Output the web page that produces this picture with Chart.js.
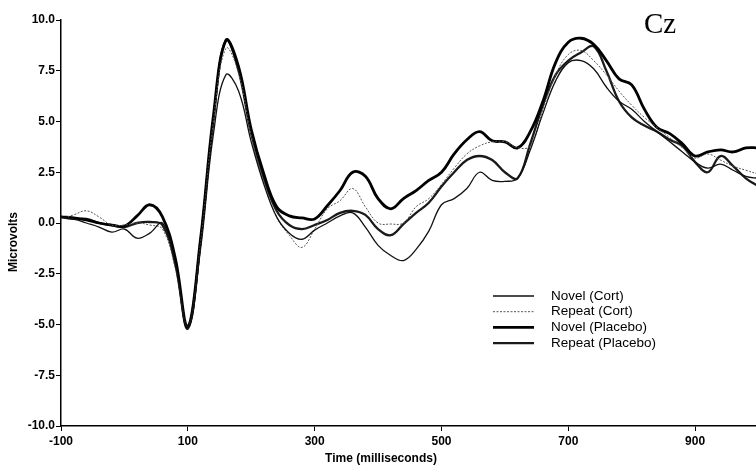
<!DOCTYPE html>
<html>
<head>
<meta charset="utf-8">
<script src="https://cdn.jsdelivr.net/npm/chart.js@4/dist/chart.umd.min.js"></script>
<style>
  body { margin: 0; background: #fff; }
  #wrap { width: 756px; height: 473px; }
</style>
</head>
<body>
<div id="wrap"><canvas id="myChart" width="756" height="473"></canvas></div>
<script>
// time in ms, every 20 ms
const times = [-100,-80,-60,-40,-20,0,20,40,60,80,100,120,140,160,180,200,220,240,260,280,300,320,340,360,380,400,420,440,460,480,500,520,540,560,580,600,620,640,660,680,700,720,740,760,780,800,820,840,860,880,900,920,940,960,980,1000];

const novelCort = [0.3,0.2,0.0,-0.2,-0.45,-0.3,-0.75,-0.5,0.0,-2.0,-5.1,-1.3,4.3,7.3,6.5,4.0,1.9,0.3,-0.5,-0.8,-0.35,0.0,0.35,0.5,-0.2,-1.1,-1.6,-1.85,-1.3,-0.4,0.9,1.2,1.7,2.5,2.1,2.05,2.2,3.6,5.4,7.0,7.9,8.0,7.6,6.7,6.0,5.6,5.0,4.5,4.0,3.5,3.0,2.7,2.9,2.6,2.3,2.2];
const repeatCort = [0.2,0.4,0.6,0.3,-0.1,-0.1,0.0,-0.1,-0.3,-2.2,-5.1,-1.0,4.9,8.6,7.4,4.3,2.0,0.3,-0.6,-1.2,-0.3,0.7,1.1,1.7,0.8,0.0,-0.05,0.0,0.8,1.2,1.9,2.7,3.4,3.8,4.0,4.0,3.7,3.8,5.6,7.3,8.3,8.5,8.0,7.3,6.5,5.8,5.2,4.7,4.2,3.7,3.2,3.4,3.1,2.8,2.6,2.4];
const novelPlacebo = [0.3,0.25,0.15,0.0,-0.1,-0.15,0.35,0.9,0.3,-1.7,-5.1,-0.8,5.2,9.0,7.7,4.6,2.4,0.8,0.35,0.25,0.2,0.85,1.6,2.5,2.3,1.2,0.7,1.2,1.6,2.1,2.5,3.4,4.1,4.5,4.05,4.0,3.7,4.5,6.0,7.9,8.9,9.1,8.8,8.0,7.1,6.8,5.6,4.7,4.4,3.9,3.3,3.5,3.6,3.5,3.7,3.7];
const repeatPlacebo = [0.3,0.2,0.2,0.0,-0.1,-0.2,0.0,0.05,-0.1,-2.0,-5.2,-0.9,5.0,9.0,7.5,4.4,2.2,0.6,-0.1,-0.3,-0.1,0.15,0.5,0.6,0.4,-0.3,-0.6,-0.05,0.5,1.0,1.8,2.5,3.1,3.3,3.1,2.5,2.2,3.9,5.8,7.3,8.0,8.4,8.7,7.5,6.0,5.2,4.8,4.5,4.1,3.8,3.0,2.5,3.3,2.8,2.2,1.8];

const xTicks = [-100, 100, 300, 500, 700, 900];
const yTicks = [-10, -7.5, -5, -2.5, 0, 2.5, 5, 7.5, 10];

const font = 'Liberation Sans';

function pts(vals) {
  return times.map((t, i) => ({ x: t, y: vals[i] }));
}

// legend drawn inside the plot, axis titles and the "Cz" label
const extras = {
  id: 'extras',
  afterDraw(chart) {
    const ctx = chart.ctx;
    ctx.save();
    ctx.font = '13.5px ' + font;
    ctx.textBaseline = 'middle';
    chart.data.datasets.forEach((ds, i) => {
      const y = 296 + i * 15.7;
      ctx.beginPath();
      ctx.lineWidth = ds.borderWidth;
      ctx.strokeStyle = ds.borderColor;
      ctx.setLineDash(ds.borderDash || []);
      ctx.moveTo(493, y);
      ctx.lineTo(534, y);
      ctx.stroke();
      ctx.setLineDash([]);
      ctx.fillStyle = '#000';
      ctx.fillText(ds.label, 551, y);
    });

    ctx.font = 'bold 12px ' + font;
    ctx.textAlign = 'center';
    ctx.fillText('Time (milliseconds)', 381, 459);
    ctx.translate(14, 242);
    ctx.rotate(-Math.PI / 2);
    ctx.fillText('Microvolts', 0, 0);
    ctx.setTransform(1, 0, 0, 1, 0, 0);

    ctx.font = '29px Liberation Serif';
    ctx.textAlign = 'left';
    ctx.textBaseline = 'alphabetic';
    ctx.fillText('Cz', 644, 33);
    ctx.restore();
  }
};

const tickFont = { family: font, size: 12, weight: 'bold' };

const config = {
  type: 'line',
  data: {
    datasets: [
      { label: 'Novel (Cort)', data: pts(novelCort), borderColor: '#111', borderWidth: 1.3 },
      { label: 'Repeat (Cort)', data: pts(repeatCort), borderColor: '#555', borderWidth: 1, borderDash: [2, 1.5] },
      { label: 'Novel (Placebo)', data: pts(novelPlacebo), borderColor: '#000', borderWidth: 2.8 },
      { label: 'Repeat (Placebo)', data: pts(repeatPlacebo), borderColor: '#1a1a1a', borderWidth: 2.3 }
    ]
  },
  options: {
    responsive: false,
    animation: false,
    layout: { padding: { top: 20, right: 0, left: 0, bottom: 0 } },
    elements: {
      point: { radius: 0 },
      line: { tension: 0.4, fill: false }
    },
    plugins: {
      legend: { display: false },
      tooltip: { enabled: false }
    },
    scales: {
      x: {
        type: 'linear',
        min: -100,
        max: 996,
        afterBuildTicks: (scale) => { scale.ticks = xTicks.map(v => ({ value: v })); },
        afterFit: (scale) => { scale.height = 47; },
        ticks: { color: '#000', font: tickFont, padding: 3, maxRotation: 0 },
        grid: { display: true, drawOnChartArea: false, drawTicks: true, tickLength: 5, color: '#000' },
        border: { display: true, color: '#000', width: 1.5 },
        title: { display: false }
      },
      y: {
        min: -10,
        max: 10,
        afterBuildTicks: (scale) => { scale.ticks = yTicks.map(v => ({ value: v })); },
        afterFit: (scale) => { scale.width = 61; },
        ticks: { color: '#000', font: tickFont, padding: 1, callback: (v) => Number(v).toFixed(1) },
        grid: { display: true, drawOnChartArea: false, drawTicks: true, tickLength: 5, color: '#000' },
        border: { display: true, color: '#000', width: 1.5 },
        title: { display: false }
      }
    }
  },
  plugins: [extras]
};

new Chart(document.getElementById('myChart'), config);
</script>
</body>
</html>
